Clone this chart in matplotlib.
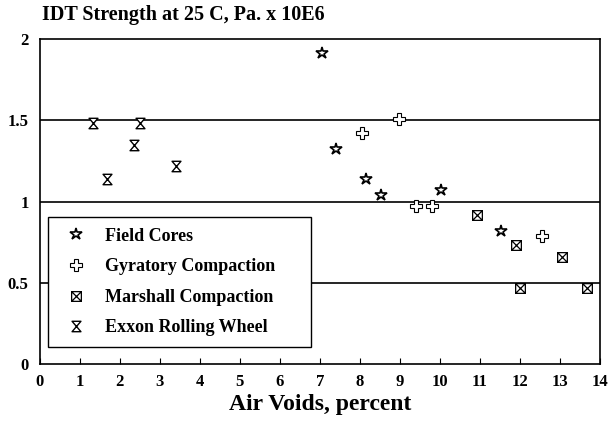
import matplotlib.pyplot as plt
import numpy as np
from matplotlib.path import Path
from matplotlib.lines import Line2D

plt.rcParams['font.family'] = ['Liberation Serif', 'DejaVu Serif']
plt.rcParams['font.weight'] = 'bold'

# data
field_x = [7.06, 7.41, 8.16, 8.53, 10.02, 11.52]
field_y = [1.91, 1.32, 1.14, 1.04, 1.07, 0.82]

gyr_x = [8.06, 8.98, 9.40, 9.80, 12.54]
gyr_y = [1.42, 1.51, 0.97, 0.97, 0.79]

marsh_x = [10.92, 11.89, 12.01, 13.06, 13.68]
marsh_y = [0.92, 0.73, 0.47, 0.66, 0.47]

exxon_x = [1.34, 1.67, 2.36, 2.51, 3.41]
exxon_y = [1.48, 1.14, 1.35, 1.48, 1.22]

labels = ['Field Cores', 'Gyratory Compaction', 'Marshall Compaction', 'Exxon Rolling Wheel']

# custom markers
hourglass = Path([(-0.85, 1), (0.85, 1), (-0.85, -1), (0.85, -1), (-0.85, 1)],
                 [Path.MOVETO, Path.LINETO, Path.LINETO, Path.LINETO, Path.CLOSEPOLY])
boxx = Path([(-1, -1), (1, -1), (1, 1), (-1, 1), (-1, -1),
             (-1, -1), (1, 1), (-1, 1), (1, -1)],
            [Path.MOVETO, Path.LINETO, Path.LINETO, Path.LINETO, Path.CLOSEPOLY,
             Path.MOVETO, Path.LINETO, Path.MOVETO, Path.LINETO])

fig = plt.figure(figsize=(6.11, 4.22), dpi=100)
ax = fig.add_axes([0.065, 0.137, 0.917, 0.771])

for yv in [0.5, 1.0, 1.5]:
    ax.axhline(yv, color='black', lw=1.2, zorder=1)

styles = [
    dict(marker='*', markersize=9, mfc='white', mec='black', mew=1.2),
    dict(marker='P', markersize=8, mfc='white', mec='black', mew=0.8),
    dict(marker=boxx, markersize=7, mfc='white', mec='black', mew=0.9),
    dict(marker=hourglass, markersize=7.5, mfc='white', mec='black', mew=1.0),
]
series = [(field_x, field_y), (gyr_x, gyr_y), (marsh_x, marsh_y), (exxon_x, exxon_y)]

for (xs, ys), st in zip(series, styles):
    ax.plot(xs, ys, linestyle='none', zorder=3, **st)

handles = [Line2D([], [], linestyle='none', **st) for st in styles]
leg = ax.legend(handles, labels, loc='lower left',
                bbox_to_anchor=(0.014, 0.052, 0.471, 0.4), mode='expand',
                frameon=True, fancybox=False, framealpha=1, edgecolor='black',
                prop={'size': 13, 'weight': 'bold'}, labelspacing=0.75,
                handletextpad=0.6, borderpad=0.6, borderaxespad=0)
leg.get_frame().set_linewidth(1.0)
leg.set_zorder(5)

ax.set_xlim(0, 14)
ax.set_ylim(0, 2)
ax.set_xticks(range(0, 15))
ax.set_yticks([0, 0.5, 1, 1.5, 2])
ax.set_yticklabels(['0', '0.5', '1', '1.5', '2'])
ax.tick_params(axis='x', direction='in', length=4, labelsize=12, pad=7)
ax.tick_params(axis='y', length=0, labelsize=12, pad=8)
for lab in ax.get_xticklabels() + ax.get_yticklabels():
    lab.set_fontweight('bold')
for sp in ax.spines.values():
    sp.set_linewidth(1.2)

ax.set_xlabel('Air Voids, percent', fontsize=17, fontweight='bold', labelpad=3)
fig.text(0.068, 0.965, 'IDT Strength at 25 C, Pa. x 10E6', fontsize=14.5,
         fontweight='bold', va='center', ha='left')

fig.savefig('out.png', dpi=100)
